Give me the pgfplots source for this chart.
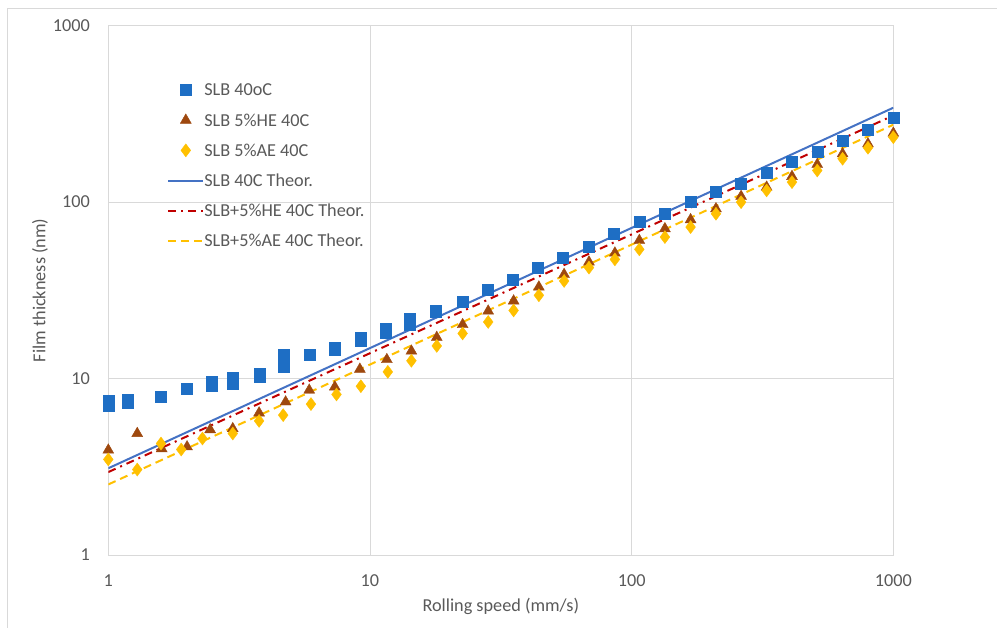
\documentclass[border=0pt]{standalone}
\usepackage{pgfplots}
\pgfplotsset{compat=1.18}
\usepackage{fontspec}
\setmainfont{Carlito}
\definecolor{txt}{HTML}{595959}
\definecolor{gridc}{HTML}{D9D9D9}
\definecolor{frame}{HTML}{D9D9D9}
\definecolor{blueM}{HTML}{1E6EC4}
\definecolor{brownM}{HTML}{9E480E}
\definecolor{yelM}{HTML}{FFC000}
\definecolor{blueL}{HTML}{4472C4}
\definecolor{redL}{HTML}{C00000}
\begin{document}
\begin{tikzpicture}[x=1bp,y=1bp]
\useasboundingbox (0,0) rectangle (997,628);
\draw[color=frame, line width=0.8bp] (7.3,0) -- (7.3,619.7) -- (997,619.7);
\begin{axis}[
  at={(108.3bp,73bp)}, anchor=south west,
  scale only axis, width=785bp, height=529.5bp,
  xmode=log, ymode=log,
  xmin=1, xmax=1000, ymin=1, ymax=1000,
  xtick={1,10,100,1000}, xticklabels={1,10,100,1000},
  ytick={1,10,100,1000}, yticklabels={1,10,100,1000},
  xminorticks=false, yminorticks=false,
  major tick length=0pt,
  grid=major,
  major grid style={draw=gridc, line width=0.8bp},
  axis line style={draw=gridc, line width=0.8bp},
  /pgf/number format/assume math mode=true,
  tick label style={font=\fontsize{18.3}{20}\selectfont, text=txt},
  yticklabel style={anchor=east, inner sep=0pt, xshift=-18.3bp},
  xticklabel style={anchor=north, inner sep=0pt, yshift=-19.4bp},
  xlabel={Rolling speed (mm/s)},
  ylabel={Film thickness (nm)},
  label style={font=\fontsize{18.3}{20}\selectfont, text=txt, inner sep=0pt},
  xlabel style={at={(axis description cs:0.5,-0.0973)}, anchor=center},
  ylabel style={at={(axis description cs:-0.087,0.5)}, anchor=center},
  legend cell align=left,
  legend style={at={(0,1)}, anchor=north west, xshift=59bp, yshift=-57.5bp,
    draw=none, fill=none, inner sep=0pt, outer sep=0pt,
    row sep=16.2bp, column sep=0bp,
    nodes={inner sep=0pt, text height=13bp, text depth=1bp,
      font=\fontsize{18.3}{20}\selectfont, text=txt},
    /tikz/every even column/.append style={column sep=3bp}},
]
\addplot[only marks, mark=square*, mark size=5.5bp, color=blueM,
  legend image code/.code={\path[draw=none,fill=none] (0bp,0bp) -- (35bp,0bp); \draw[only marks] plot coordinates {(17.5bp,0bp)};}]
coordinates {(1,7.0)(1,7.5)(1.19,7.3)(1.19,7.6)(1.59,7.9)(1.99,8.7)(2.48,9.1)(2.48,9.6)(2.98,9.4)(2.98,10.1)(3.78,10.3)(3.78,10.7)(4.7,11.7)(4.7,13.7)(5.9,13.7)(7.35,14.6)(7.35,15.0)(9.2,16.3)(9.2,17.0)(11.5,18.1)(11.5,19.1)(14.2,20.3)(14.2,21.9)(17.9,23.8)(17.9,24.3)(22.6,27.1)(28.3,31.9)(35.1,36.5)(43.9,42.5)(54.7,48.4)(68.4,55.6)(85.7,66.2)(107,77.3)(134,85.8)(168,99.8)(210,114.8)(262,126.9)(328,146.5)(410,168.3)(512,193.4)(640,223.2)(800,257.8)(1000,300)};
\addlegendentry{SLB 40oC}
\addplot[only marks, mark=triangle*, mark size=6.3bp, color=brownM,
  legend image code/.code={\path[draw=none,fill=none] (0bp,0bp) -- (35bp,0bp); \draw[only marks] plot coordinates {(17.5bp,0bp)};}]
coordinates {(1,3.93)(1.29,4.88)(1.6,4.0)(2.0,4.1)(2.45,5.13)(2.99,5.2)(3.77,6.38)(4.76,7.37)(5.86,8.59)(7.34,8.96)(9.15,11.29)(11.6,12.8)(14.4,14.3)(18.0,17.1)(22.6,20.2)(28.3,24.1)(35.4,27.5)(44.2,33.0)(55.2,38.9)(68.7,45.7)(86.3,51.4)(107,60.6)(134,70.6)(168,79.4)(210,91.6)(262,107.6)(328,121.4)(410,139.6)(512,163.3)(640,187.6)(800,213.6)(1000,245.5)};
\addlegendentry{SLB 5\%HE 40C}
\addplot[only marks, mark=diamond*, mark size=6.5bp, color=yelM,
  legend image code/.code={\path[draw=none,fill=none] (0bp,0bp) -- (35bp,0bp); \draw[only marks] plot coordinates {(17.5bp,0bp)};}]
coordinates {(1,3.48)(1.29,3.05)(1.59,4.28)(1.9,3.96)(2.29,4.57)(2.99,4.88)(3.77,5.75)(4.66,6.2)(5.95,7.16)(7.45,8.12)(9.23,9.04)(11.7,10.9)(14.4,12.6)(18.0,15.3)(22.6,18.0)(28.3,20.9)(35.4,24.3)(44.2,29.6)(55.2,35.7)(68.7,42.5)(86.3,47.3)(107,53.9)(134,63.3)(168,72.1)(210,85.8)(262,99.8)(328,116.3)(410,129.6)(512,150.9)(640,175.8)(800,202.9)(1000,232.9)};
\addlegendentry{SLB 5\%AE 40C}
\addplot[blueL, line width=2bp, no marks,
  legend image code/.code={\draw (0bp,0bp) -- (35bp,0bp);}]
coordinates {(1,3.10)(1000,342)};
\addlegendentry{SLB 40C Theor.}
\addplot[redL, line width=2bp, no marks, dash pattern=on 8bp off 5bp on 2bp off 5bp,
  legend image code/.code={\draw (0bp,0bp) -- (35bp,0bp);}]
coordinates {(1,2.95)(1000,309)};
\addlegendentry{SLB+5\%HE 40C Theor.}
\addplot[yelM, line width=2bp, no marks, dash pattern=on 8bp off 5bp,
  legend image code/.code={\draw (0bp,0bp) -- (35bp,0bp);}]
coordinates {(1,2.51)(1000,274)};
\addlegendentry{SLB+5\%AE 40C Theor.}
\end{axis}
\end{tikzpicture}
\end{document}
